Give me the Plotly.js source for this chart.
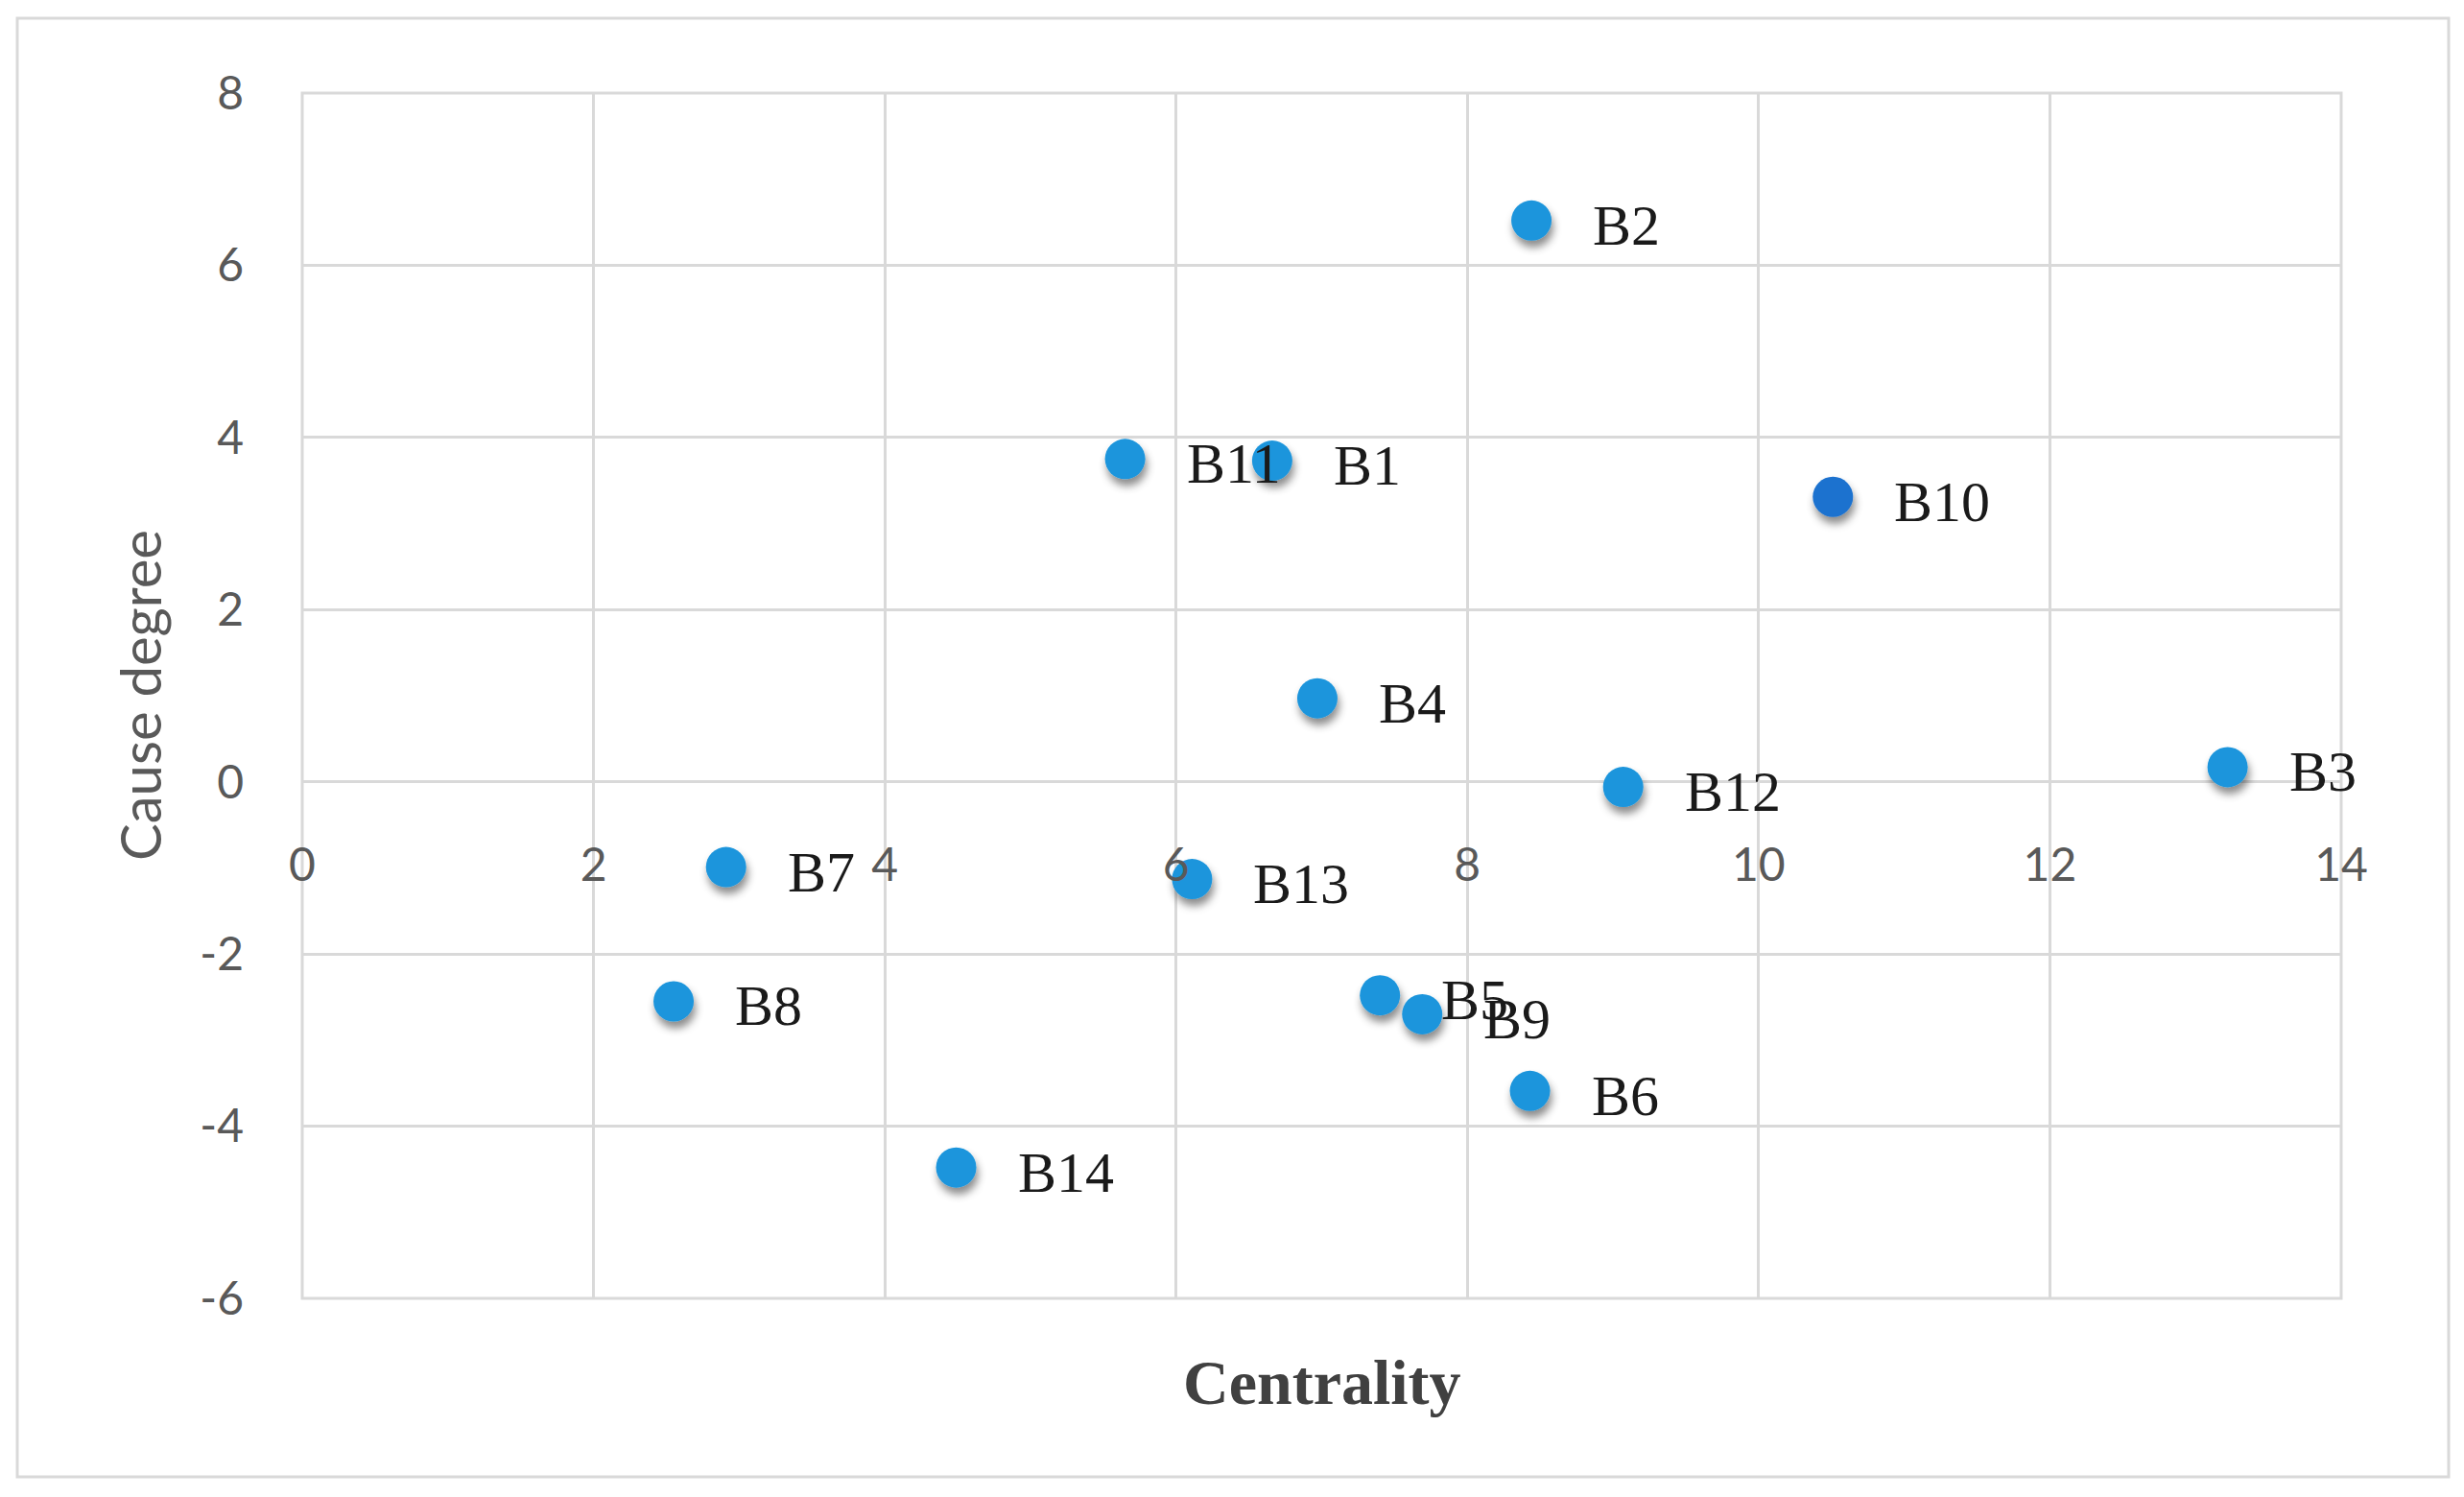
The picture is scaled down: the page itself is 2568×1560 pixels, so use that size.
<!DOCTYPE html>
<html>
<head>
<meta charset="utf-8">
<script src="https://cdn.plot.ly/plotly-3.0.1.min.js"></script>
<style>
  html, body { margin: 0; padding: 0; background: #ffffff; }
  #chart { width: 2568px; height: 1560px; }
  .scatterlayer .points path { filter: url(#mshadow); }
</style>
</head>
<body>
<svg width="0" height="0" style="position:absolute">
  <defs>
    <filter id="mshadow" x="-60%" y="-60%" width="220%" height="240%">
      <feDropShadow dx="2" dy="7" stdDeviation="4" flood-color="#000000" flood-opacity="0.45"/>
    </filter>
  </defs>
</svg>
<div id="chart"></div>
<script>
// ---- data ----
const labels     = ['B1','B2','B3','B4','B5','B6','B7','B8','B9','B10','B11','B12','B13','B14'];
const centrality = [6.66, 8.44, 13.22, 6.97, 7.40, 8.43, 2.91, 2.55, 7.69, 10.51, 5.65, 9.07, 6.11, 4.49];
const causeDeg   = [3.73, 6.52, 0.17, 0.97, -2.48, -3.59, -0.99, -2.55, -2.70, 3.31, 3.75, -0.06, -1.13, -4.48];
const xTicks     = [0, 2, 4, 6, 8, 10, 12, 14];
const yTicks     = [-6, -4, -2, 0, 2, 4, 6, 8];
const xTitle     = 'Centrality';
const yTitle     = 'Cause degree';
const highlighted = 'B10';

// ---- styles ----
const baseColor = '#1c95dc';
const hiColor   = '#1f72cf';
const gridColor = '#d9d9d9';
const tickColor = '#595959';

const markerColors = labels.map(l => l === highlighted ? hiColor : baseColor);

const trace = {
  type: 'scatter',
  mode: 'markers',
  x: centrality,
  y: causeDeg,
  marker: { size: 42, color: markerColors, line: { width: 0 } },
  hoverinfo: 'x+y+text',
  text: labels,
  showlegend: false
};

const pointLabels = labels.map((l, i) => ({
  x: centrality[i], y: causeDeg[i], xref: 'x', yref: 'y',
  text: l, showarrow: false, xanchor: 'left', yanchor: 'middle',
  xshift: 62, yshift: -5,
  font: { family: 'Liberation Serif, serif', size: 60, color: '#1a1a1a' }
}));

const layout = {
  width: 2568, height: 1560,
  paper_bgcolor: '#ffffff', plot_bgcolor: '#ffffff',
  margin: { l: 315, r: 128, t: 97, b: 207 },
  xaxis: {
    range: [0, 14], tickvals: xTicks, ticktext: xTicks.map(String),
    showgrid: true, gridcolor: gridColor, gridwidth: 3,
    zeroline: false, showline: false, ticks: '',
    anchor: 'free', position: 6 / 14, side: 'bottom',
    ticklabelstandoff: 54,
    tickfont: { family: 'Lato, Carlito, sans-serif', size: 48, color: tickColor }
  },
  yaxis: {
    range: [-6, 8], tickvals: yTicks, ticktext: yTicks.map(String),
    showgrid: true, gridcolor: gridColor, gridwidth: 3,
    zeroline: true, zerolinecolor: gridColor, zerolinewidth: 3,
    showline: false, ticks: '',
    ticklabelstandoff: 60,
    tickfont: { family: 'Lato, Carlito, sans-serif', size: 48, color: tickColor }
  },
  shapes: [
    { type: 'rect', xref: 'paper', yref: 'paper', x0: 0, x1: 1, y0: 0, y1: 1,
      line: { color: gridColor, width: 3 }, layer: 'below' },
    { type: 'rect', xref: 'paper', yref: 'paper',
      x0: (18 - 315) / 2125, x1: (2552 - 315) / 2125,
      y0: (1353 - 1539) / 1256, y1: (1353 - 19) / 1256,
      line: { color: gridColor, width: 3 }, layer: 'below' }
  ],
  annotations: pointLabels.concat([
    { xref: 'paper', yref: 'paper', x: 0.5, y: (1353 - 1440) / 1256,
      text: xTitle, showarrow: false, xanchor: 'center', yanchor: 'middle',
      font: { family: 'Liberation Serif, serif', size: 66, color: '#404040', weight: 'bold' } },
    { xref: 'paper', yref: 'paper', x: (145 - 315) / 2125, y: 0.5,
      text: yTitle, showarrow: false, textangle: -90, xanchor: 'center', yanchor: 'middle',
      font: { family: 'Lato, Carlito, sans-serif', size: 58, color: tickColor } }
  ])
};

Plotly.newPlot('chart', [trace], layout, { displayModeBar: false, staticPlot: true });
</script>
</body>
</html>
